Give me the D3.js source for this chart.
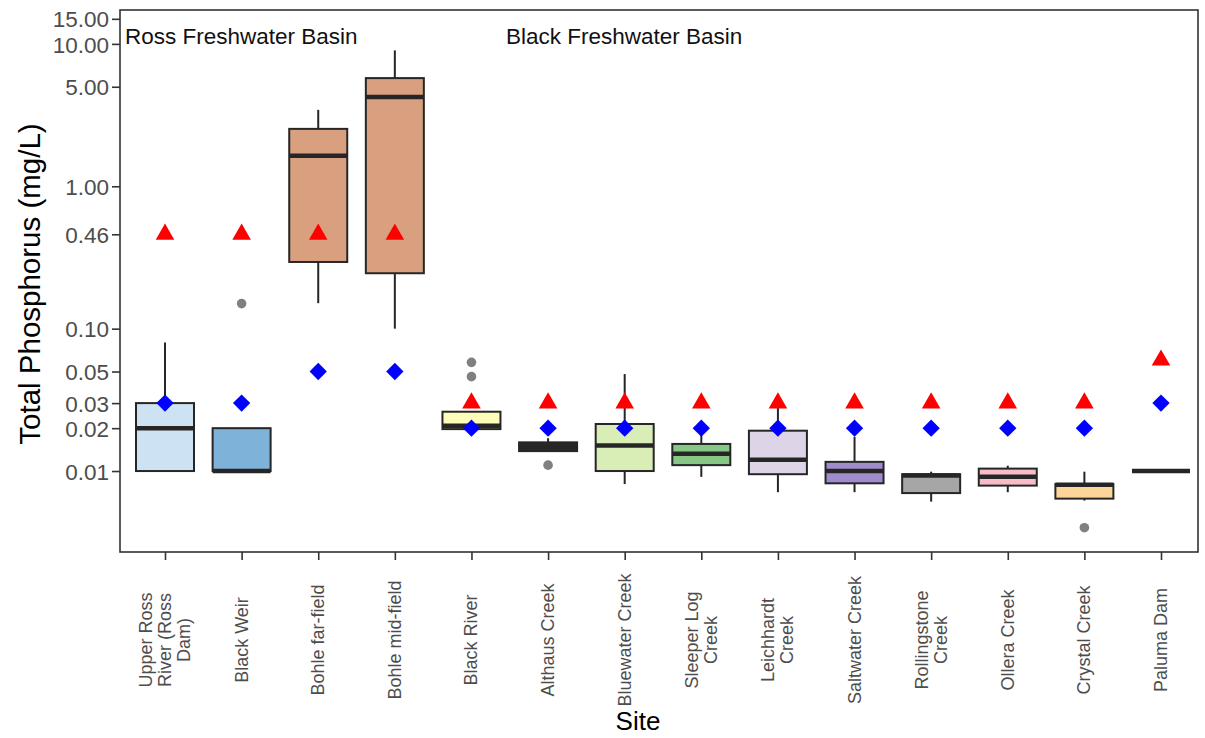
<!DOCTYPE html>
<html>
<head>
<meta charset="utf-8">
<script src="https://cdn.jsdelivr.net/npm/d3@7"></script>
<style>
  html, body { margin: 0; padding: 0; background: #fff; }
  svg { display: block; font-family: "Liberation Sans", Arial, sans-serif; }
</style>
</head>
<body>
<svg id="chart" width="1205" height="738"></svg>
<script>
// ---- data ----
const sites = ["Upper Ross\nRiver (Ross\nDam)", "Black Weir", "Bohle far-field", "Bohle mid-field",
  "Black River", "Althaus Creek", "Bluewater Creek", "Sleeper Log\nCreek", "Leichhardt\nCreek",
  "Saltwater Creek", "Rollingstone\nCreek", "Ollera Creek", "Crystal Creek", "Paluma Dam"];
const whiskerLow  = [0.01, 0.01, 0.151, 0.10, 0.0197, 0.0138, 0.0081, 0.0091, 0.0071, 0.0071, 0.0061, 0.0071, 0.0062, 0.01];
const q1          = [0.01, 0.01, 0.294, 0.245, 0.0197, 0.0138, 0.0100, 0.0110, 0.0095, 0.0082, 0.0070, 0.0079, 0.0064, 0.01];
const median      = [0.02, 0.01, 1.64, 4.23, 0.0208, 0.0147, 0.0151, 0.0132, 0.0120, 0.0100, 0.0093, 0.0091, 0.0080, 0.01];
const q3          = [0.03, 0.02, 2.53, 5.75, 0.0261, 0.0159, 0.0214, 0.0155, 0.0192, 0.0116, 0.0095, 0.0104, 0.0081, 0.01];
const whiskerHigh = [0.08, 0.02, 3.44, 9.0, 0.0261, 0.0170, 0.048, 0.0185, 0.0277, 0.0174, 0.0099, 0.0109, 0.0099, 0.01];
const outliers    = [[], [0.15], [], [], [0.058, 0.046], [0.011], [], [], [], [], [], [], [0.004], []];
const guideline   = [0.46, 0.46, 0.46, 0.46, 0.03, 0.03, 0.03, 0.03, 0.03, 0.03, 0.03, 0.03, 0.03, 0.06];
const objective   = [0.03, 0.03, 0.05, 0.05, 0.02, 0.02, 0.02, 0.02, 0.02, 0.02, 0.02, 0.02, 0.02, 0.03];
const fills = ["#cde2f3", "#7fb2d9", "#d9a07f", "#d9a07f", "#fdfdb9", "#2a2a2a", "#d8eeb6",
  "#87c786", "#ddd4e8", "#a08ccc", "#a6a6a6", "#f8bcc6", "#fdd59b", "#fdd59b"];
const yTicks = [0.01, 0.02, 0.03, 0.05, 0.10, 0.46, 1.00, 5.00, 10.00, 15.00];
const basinLabels = ["Ross Freshwater Basin", "Black Freshwater Basin"];

// ---- layout ----
const svg = d3.select("#chart");
const P = { left: 120, right: 1198, top: 10, bottom: 552 };
const x = d3.scaleLinear().domain([0, sites.length - 1]).range([165, 1161]);
const y = d3.scaleLog().domain([0.0027, 17.3]).range([P.bottom, P.top]);
const boxW = 58;
const ink = "#262626";

// y axis
const yAxis = d3.axisLeft(y).tickValues(yTicks).tickFormat(d3.format(".2f")).tickSize(8).tickPadding(3);
const gy = svg.append("g").attr("transform", `translate(${P.left},0)`).call(yAxis);
gy.select(".domain").remove();
gy.selectAll(".tick line").attr("stroke", "#333").attr("stroke-width", 1.6);
gy.selectAll(".tick text").attr("fill", "#4d4d4d").style("font-size", "22.5px").attr("dy", "0.36em");

// x axis
const xAxis = d3.axisBottom(x).tickValues(d3.range(sites.length)).tickSize(8).tickFormat("");
const gx = svg.append("g").attr("transform", `translate(0,${P.bottom})`).call(xAxis);
gx.select(".domain").remove();
gx.selectAll(".tick line").attr("stroke", "#333").attr("stroke-width", 1.6);

// x tick labels (rotated, multi-line, centered)
const lh = 19;
sites.forEach((s, i) => {
  const lines = s.split("\n");
  const t = svg.append("text")
    .attr("transform", `translate(${x(i)},640) rotate(-90)`)
    .attr("text-anchor", "middle")
    .attr("fill", "#4d4d4d")
    .style("font-size", "18px");
  lines.forEach((ln, k) => {
    t.append("tspan").attr("x", 0)
      .attr("y", (k - (lines.length - 1) / 2) * lh)
      .attr("dominant-baseline", "central")
      .text(ln);
  });
});

// panel border
svg.append("rect").attr("x", P.left).attr("y", P.top)
  .attr("width", P.right - P.left).attr("height", P.bottom - P.top)
  .attr("fill", "none").attr("stroke", "#333").attr("stroke-width", 1.6);

// boxes
const g = svg.append("g");
sites.forEach((s, i) => {
  const cx = x(i);
  g.append("line").attr("x1", cx).attr("x2", cx).attr("y1", y(q3[i])).attr("y2", y(whiskerHigh[i]))
    .attr("stroke", ink).attr("stroke-width", 2);
  g.append("line").attr("x1", cx).attr("x2", cx).attr("y1", y(q1[i])).attr("y2", y(whiskerLow[i]))
    .attr("stroke", ink).attr("stroke-width", 2);
  g.append("rect").attr("x", cx - boxW / 2).attr("y", y(q3[i]))
    .attr("width", boxW).attr("height", Math.max(0, y(q1[i]) - y(q3[i])))
    .attr("fill", fills[i]).attr("stroke", ink).attr("stroke-width", 2);
  g.append("line").attr("x1", cx - boxW / 2).attr("x2", cx + boxW / 2)
    .attr("y1", y(median[i])).attr("y2", y(median[i]))
    .attr("stroke", ink).attr("stroke-width", 4.5);
  outliers[i].forEach(v => {
    g.append("circle").attr("cx", cx).attr("cy", y(v)).attr("r", 4.8).attr("fill", "#808080");
  });
});

// guideline (red triangles) and objectives (blue diamonds)
const tri = d3.symbol().type(d3.symbolTriangle).size(150);
const sq = d3.symbol().type(d3.symbolSquare).size(150);
sites.forEach((s, i) => {
  svg.append("path").attr("d", tri()).attr("fill", "#ff0000")
    .attr("transform", `translate(${x(i)},${y(guideline[i])})`);
  svg.append("path").attr("d", sq()).attr("fill", "#0000ff")
    .attr("transform", `translate(${x(i)},${y(objective[i])}) rotate(45)`);
});

// basin annotations
basinLabels.forEach((lab, k) => {
  svg.append("text").attr("x", k === 0 ? 125 : 506).attr("y", 44)
    .attr("fill", "#111").style("font-size", "22.5px").text(lab);
});

// axis titles
svg.append("text").attr("transform", `translate(40,284) rotate(-90)`)
  .attr("text-anchor", "middle").attr("fill", "#000").style("font-size", "29.5px")
  .text("Total Phosphorus (mg/L)");
svg.append("text").attr("x", 638).attr("y", 730)
  .attr("text-anchor", "middle").attr("fill", "#000").style("font-size", "26px").text("Site");
</script>
</body>
</html>
